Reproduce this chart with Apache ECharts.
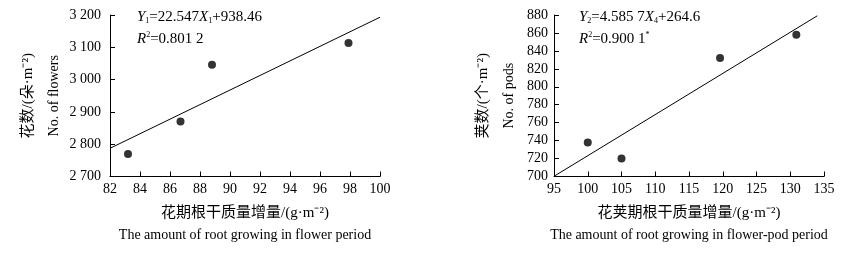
<!DOCTYPE html>
<html>
<head>
<meta charset="utf-8">
<script src="https://cdn.jsdelivr.net/npm/echarts@6/dist/echarts.min.js"></script>
<style>
  html, body { margin: 0; padding: 0; background: #fff; }
  #chart { width: 854px; height: 253px; }
</style>
</head>
<body>
<div id="chart"></div>
<script>
// flowering period: root dry-matter increase vs. number of flowers
const flowerX = [83.2, 86.7, 88.8, 97.9]
const flowerY = [2770, 2870, 3046, 3113]
const flowerFit = { slope: 22.547, intercept: 938.46, from: 82, to: 100 }

// flower-pod period: root dry-matter increase vs. number of pods
const podX = [100.0, 105.0, 119.6, 130.9]
const podY = [738, 720, 832, 858]
const podFit = { slope: 4.5857, intercept: 264.6, from: 95, to: 134 }

const FONT = '"Liberation Serif", "Noto Sans CJK SC", serif'

function fitLine(fit) {
  return [fit.from, fit.to].map(x => [x, fit.slope * x + fit.intercept])
}

const rich = {
  cn: { fontFamily: FONT, fontSize: 15, color: '#000', lineHeight: 22 },
  en: { fontFamily: FONT, fontSize: 14, color: '#000', lineHeight: 22 },
  i: { fontFamily: FONT, fontSize: 15, fontStyle: 'italic', color: '#000', lineHeight: 22 },
  t: { fontFamily: FONT, fontSize: 15, color: '#000', lineHeight: 22 },
  sub: { fontFamily: FONT, fontSize: 8, color: '#000', verticalAlign: 'bottom', padding: [0, 0, 4, 0] },
  sup: { fontFamily: FONT, fontSize: 8, color: '#000', verticalAlign: 'top', padding: [2, 0, 0, 0] }
}
const yRich = {
  cn: Object.assign({}, rich.cn, { lineHeight: 26 }),
  en: Object.assign({}, rich.en, { lineHeight: 26 })
}

function spaced(v) {
  return String(v).replace(/\B(?=(\d{3})+(?!\d))/g, ' ')
}

const axisCommon = {
  axisLine: { lineStyle: { color: '#000', width: 1 } },
  axisTick: { inside: true, length: 5, lineStyle: { color: '#000' } },
  splitLine: { show: false },
  axisLabel: { color: '#000', fontFamily: FONT, fontSize: 14 }
}

const chart = echarts.init(document.getElementById('chart'))
chart.setOption({
  backgroundColor: '#fff',
  animation: false,
  grid: [
    { left: 110, top: 15, width: 270, height: 161.5 },
    { left: 554, top: 15, width: 270, height: 161.5 }
  ],
  xAxis: [
    Object.assign({}, axisCommon, {
      gridIndex: 0, type: 'value', min: 82, max: 100, interval: 2,
      axisLabel: Object.assign({}, axisCommon.axisLabel, { margin: 6 }),
      name: '{cn|花期根干质量增量/(g·m⁻²)}\n{en|The amount of root growing in flower period}',
      nameLocation: 'middle', nameGap: 26,
      nameTextStyle: { rich: rich }
    }),
    Object.assign({}, axisCommon, {
      gridIndex: 1, type: 'value', min: 95, max: 135, interval: 5,
      axisLabel: Object.assign({}, axisCommon.axisLabel, { margin: 6 }),
      name: '{cn|花荚期根干质量增量/(g·m⁻²)}\n{en|The amount of root growing in flower-pod period}',
      nameLocation: 'middle', nameGap: 26,
      nameTextStyle: { rich: rich }
    })
  ],
  yAxis: [
    Object.assign({}, axisCommon, {
      gridIndex: 0, type: 'value', min: 2700, max: 3200, interval: 100,
      axisLabel: Object.assign({}, axisCommon.axisLabel, { margin: 9, formatter: spaced }),
      name: '{cn|花数/(朵·m⁻²)}\n{en|No. of flowers}',
      nameLocation: 'middle', nameGap: 43,
      nameTextStyle: { rich: yRich }
    }),
    Object.assign({}, axisCommon, {
      gridIndex: 1, type: 'value', min: 700, max: 880, interval: 20,
      axisLabel: Object.assign({}, axisCommon.axisLabel, { margin: 6 }),
      name: '{cn|荚数/(个·m⁻²)}\n{en|No. of pods}',
      nameLocation: 'middle', nameGap: 32,
      nameTextStyle: { rich: yRich }
    })
  ],
  series: [
    {
      type: 'line', xAxisIndex: 0, yAxisIndex: 0, data: fitLine(flowerFit),
      symbol: 'none', lineStyle: { color: '#000', width: 1 }, z: 2
    },
    {
      type: 'scatter', xAxisIndex: 0, yAxisIndex: 0,
      data: flowerX.map((x, i) => [x, flowerY[i]]),
      symbolSize: 8, itemStyle: { color: '#000' }, z: 3
    },
    {
      type: 'line', xAxisIndex: 1, yAxisIndex: 1, data: fitLine(podFit),
      symbol: 'none', lineStyle: { color: '#000', width: 1 }, z: 2
    },
    {
      type: 'scatter', xAxisIndex: 1, yAxisIndex: 1,
      data: podX.map((x, i) => [x, podY[i]]),
      symbolSize: 8, itemStyle: { color: '#000' }, z: 3
    }
  ],
  graphic: [
    {
      type: 'text', left: 137, top: 10,
      style: { text: '{i|Y}{sub|1}{t|=22.547}{i|X}{sub|1}{t|+938.46}\n{i|R}{sup|2}{t|=0.801 2}', rich: rich }
    },
    {
      type: 'text', left: 579, top: 10,
      style: { text: '{i|Y}{sub|2}{t|=4.585 7}{i|X}{sub|4}{t|+264.6}\n{i|R}{sup|2}{t|=0.900 1}{sup|*}', rich: rich }
    }
  ]
})
</script>
</body>
</html>
